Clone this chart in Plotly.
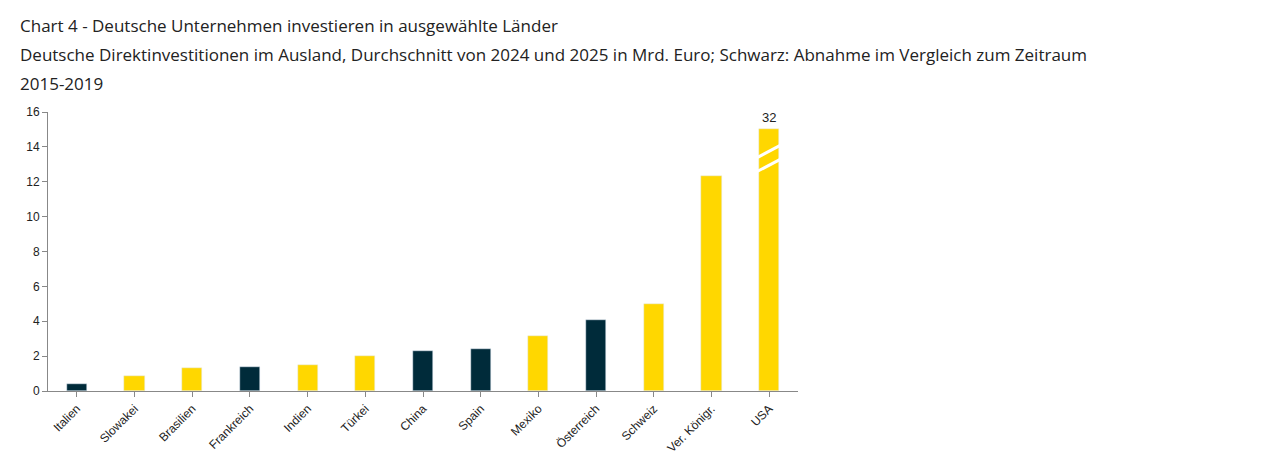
import plotly.graph_objects as go

countries = ["Italien","Slowakei","Brasilien","Frankreich","Indien","Türkei","China","Spain","Mexiko","Österreich","Schweiz","Ver. Königr.","USA"]
values = [0.4,0.85,1.3,1.4,1.5,2.0,2.3,2.4,3.15,4.05,5.0,12.35,32]
decline = [True,False,False,True,False,False,True,True,False,True,False,False,False]
cap = 15
YEL, DARK = "#FFD700", "#002B3A"

shown = [min(v, cap) for v in values]
colors = [DARK if d else YEL for d in decline]
fig = go.Figure(go.Bar(x=countries, y=shown, marker_color=colors, width=0.35))

for c, v in zip(countries, values):
    if v > cap:
        fig.add_annotation(x=c, y=cap, text=str(v), showarrow=False, yanchor="bottom", yshift=2,
                           font=dict(size=13, color="#222"))
        i = countries.index(c)
        for y0 in (12.6, 13.4):
            fig.add_shape(type="line", x0=i-0.2, x1=i+0.2, y0=y0, y1=y0+0.7,
                          line=dict(color="white", width=3))

T = 104
fig.update_layout(
    width=1271, height=467, plot_bgcolor="white", paper_bgcolor="white",
    margin=dict(l=40, r=481, t=T, b=84), showlegend=False, bargap=0,
    font=dict(family="Liberation Sans, Arial", size=12, color="#222"),
)
fig.update_xaxes(showline=True, linecolor="#888", ticks="outside", tickcolor="#888", ticklen=5,
                 tickangle=-45, tickfont=dict(size=12))
fig.update_yaxes(range=[0,16], dtick=2, showline=True, linecolor="#888", ticks="outside",
                 tickcolor="#888", ticklen=5, showgrid=False, tickfont=dict(size=12))

tf = dict(family="Open Sans, Noto Sans", size=17, color="#222")
for ypix, txt in [(17, "Chart 4 - Deutsche Unternehmen investieren in ausgewählte Länder"),
                  (46, "Deutsche Direktinvestitionen im Ausland, Durchschnitt von 2024 und 2025 in Mrd. Euro; Schwarz: Abnahme im Vergleich zum Zeitraum"),
                  (75, "2015-2019")]:
    fig.add_annotation(xref="paper", yref="paper", x=-30/750, y=1+(T-ypix)/279, xanchor="left", yanchor="middle",
                       text=txt, showarrow=False, font=tf)

fig.write_html("out.html")
